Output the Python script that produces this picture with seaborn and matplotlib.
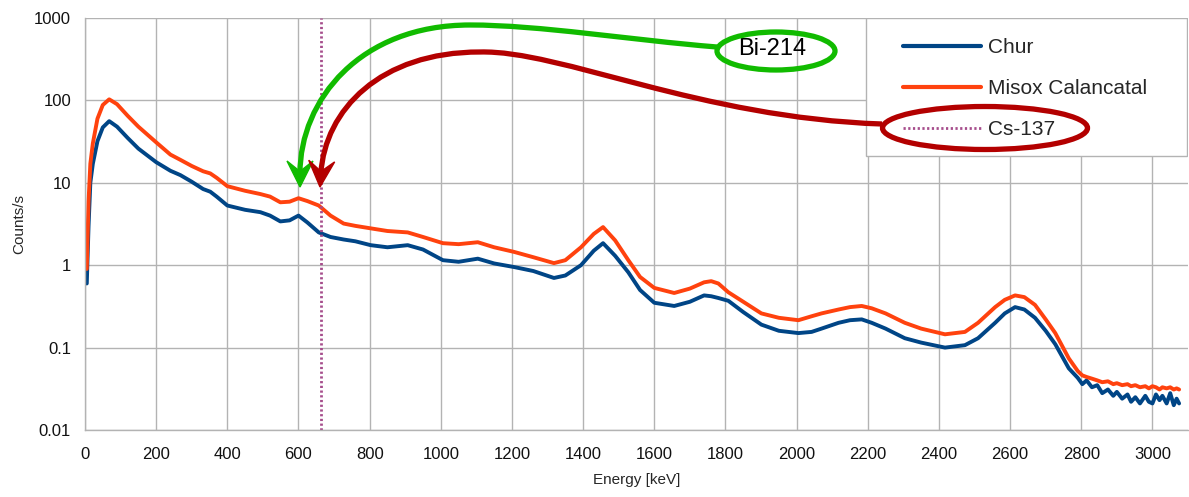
import numpy as np
import pandas as pd
import matplotlib
matplotlib.use('Agg')
import matplotlib.pyplot as plt
import seaborn as sns
from matplotlib.lines import Line2D
from matplotlib.patches import Ellipse, Rectangle, PathPatch, Polygon
from matplotlib.path import Path
from matplotlib.ticker import FixedLocator, FixedFormatter

# spectrum values (keV, counts/s)
energy = [5, 10, 15, 22, 35, 50, 68, 90, 120, 150, 200, 240, 268, 300, 332, 352, 370, 400,
          450, 493, 520, 549, 575, 600, 625, 657, 690, 727, 760, 803, 850, 907, 950, 1006,
          1050, 1104, 1150, 1206, 1260, 1318, 1350, 1394, 1430, 1456, 1490, 1527, 1560, 1600,
          1656, 1700, 1740, 1760, 1780, 1808, 1850, 1901, 1950, 2005, 2042, 2070, 2118, 2150,
          2183, 2211, 2250, 2304, 2350, 2417, 2473, 2510, 2558, 2585, 2614, 2640, 2670, 2700,
          2727, 2765, 2790, 2803, 2815, 2830, 2845, 2859, 2875, 2890, 2900, 2915, 2930, 2940,
          2952, 2965, 2980, 2990, 3000, 3010, 3020, 3028, 3040, 3050, 3060, 3068, 3075]

misox = [0.9, 6, 17, 30, 60, 88, 103, 90, 65, 48, 31, 22, 19, 16, 13.8, 13, 11.5, 9.1,
         8.0, 7.3, 6.8, 5.8, 5.9, 6.5, 6.0, 5.3, 4.0, 3.2, 3.0, 2.8, 2.6, 2.5, 2.2, 1.85,
         1.8, 1.9, 1.65, 1.45, 1.25, 1.06, 1.15, 1.65, 2.4, 2.9, 2.0, 1.15, 0.72, 0.53,
         0.46, 0.52, 0.62, 0.64, 0.6, 0.47, 0.36, 0.26, 0.23, 0.215, 0.24, 0.26, 0.29, 0.31,
         0.32, 0.30, 0.26, 0.20, 0.17, 0.145, 0.155, 0.2, 0.31, 0.38, 0.43, 0.41, 0.33, 0.22,
         0.15, 0.074, 0.052, 0.046, 0.044, 0.042, 0.040, 0.038, 0.039, 0.036, 0.037, 0.035, 0.036, 0.034,
         0.035, 0.033, 0.034, 0.032, 0.034, 0.033, 0.031, 0.033, 0.032, 0.033, 0.031, 0.032, 0.031]

chur = [0.6, 3, 10, 17, 32, 47, 56, 48, 35, 26, 17.8, 14, 12.4, 10.3, 8.4, 7.8, 6.8, 5.3,
        4.7, 4.4, 4.0, 3.4, 3.5, 4.0, 3.3, 2.5, 2.2, 2.05, 1.95, 1.75, 1.65, 1.75, 1.55, 1.15,
        1.1, 1.2, 1.05, 0.95, 0.85, 0.7, 0.75, 1.0, 1.5, 1.85, 1.3, 0.82, 0.5, 0.35,
        0.32, 0.36, 0.43, 0.42, 0.4, 0.37, 0.27, 0.19, 0.16, 0.15, 0.155, 0.17, 0.2, 0.215,
        0.22, 0.2, 0.17, 0.13, 0.115, 0.1, 0.107, 0.13, 0.2, 0.26, 0.31, 0.29, 0.23, 0.16,
        0.11, 0.056, 0.043, 0.036, 0.040, 0.033, 0.035, 0.028, 0.031, 0.026, 0.029, 0.024, 0.027, 0.022,
        0.025, 0.021, 0.026, 0.022, 0.021, 0.027, 0.023, 0.026, 0.021, 0.028, 0.020, 0.024, 0.021]

series_names = ['Chur', 'Misox Calancatal']
series_colors = ['#004586', '#ff420e']
cs137_energy = 662
x_ticks = list(range(0, 3001, 200))
y_ticks = [0.01, 0.1, 1, 10, 100, 1000]
y_tick_labels = ['0.01', '0.1', '1', '10', '100', '1000']

W, H = 1189, 497
GREEN = '#11bb00'
RED = '#b30000'
CS_COLOR = '#a64d8c'

df = pd.DataFrame({
    'energy': energy * 2,
    'counts': chur + misox,
    'sample': [series_names[0]] * len(energy) + [series_names[1]] * len(energy),
})

sns.set_theme(style='whitegrid')
plt.rcParams['font.family'] = ['Liberation Sans', 'DejaVu Sans']

fig = plt.figure(figsize=(W / 100, H / 100), dpi=100)
ax = fig.add_axes([85 / W, 67 / H, 1103 / W, 412 / H])

sns.lineplot(data=df, x='energy', y='counts', hue='sample', hue_order=series_names,
             palette=series_colors, linewidth=2.8, sort=False, legend=False, ax=ax)
ax.axvline(cs137_energy, color=CS_COLOR, linestyle=(0, (0.8, 0.9)), linewidth=2)

ax.set_yscale('log')
ax.set_xlim(0, 3100)
ax.set_ylim(0.01, 1000)
ax.xaxis.set_major_locator(FixedLocator(x_ticks))
ax.yaxis.set_major_locator(FixedLocator(y_ticks))
ax.yaxis.set_major_formatter(FixedFormatter(y_tick_labels))
ax.yaxis.set_minor_locator(FixedLocator([]))
ax.grid(True, color='#b3b3b3', linewidth=1)
for s in ['top', 'right']:
    ax.spines[s].set_visible(False)
for s in ['left', 'bottom']:
    ax.spines[s].set_color('#b3b3b3')
    ax.spines[s].set_linewidth(1)
ax.tick_params(axis='both', length=4, width=1, color='#b3b3b3', labelsize=12, labelcolor='#111111')
ax.tick_params(axis='x', pad=8)
ax.tick_params(axis='y', pad=6)
ax.set_xlabel('Energy [keV]', fontsize=11, labelpad=8)
ax.set_ylabel('Counts/s', fontsize=11, labelpad=6)

# legend box
ax.add_patch(Rectangle((866 / W, 1 - 156 / H), (1187 - 866) / W, (156 - 18) / H,
                       transform=fig.transFigure, facecolor='white', edgecolor='#b3b3b3',
                       linewidth=1, zorder=5))
handles = [Line2D([], [], color=series_colors[0], lw=3),
           Line2D([], [], color=series_colors[1], lw=3),
           Line2D([], [], color=CS_COLOR, lw=2, linestyle=(0, (0.8, 0.9)))]
leg = fig.legend(handles, series_names + ['Cs-137'], loc='upper left',
                 bbox_to_anchor=(893 / W, 1 - 28 / H), frameon=False, fontsize=15,
                 handlelength=3.7, handletextpad=0.35, labelspacing=1.05, borderpad=0)
leg.set_zorder(6)


def fp(x, y):
    return (x / W, 1 - y / H)


# annotation ellipses
fig.patches.append(Ellipse(fp(776, 51), 118 / W, 38 / H, transform=fig.transFigure,
                           fill=False, edgecolor=GREEN, linewidth=3.8, zorder=10))
fig.patches.append(Ellipse(fp(985, 128), 205 / W, 43 / H, transform=fig.transFigure,
                           fill=False, edgecolor=RED, linewidth=3.8, zorder=10))
fig.text(772 / W, 1 - 49 / H, 'Bi-214', fontsize=17, ha='center', va='center', color='black')


def curved_arrow(pts, col, head_len=26, half_w=13, notch=0.6):
    # pts: start, ctrl, ctrl, mid, ctrl, ctrl, tip (image pixel coords)
    pts = np.array(pts, dtype=float)
    tip = pts[-1]
    d = tip - pts[-2]
    d = d / np.hypot(*d)
    n = np.array([-d[1], d[0]])
    base = tip - notch * head_len * d
    line_pts = pts.copy()
    line_pts[-1] = base + 2 * d
    C = Path.CURVE4
    path = Path([fp(*p) for p in line_pts], [Path.MOVETO, C, C, C, C, C, C])
    fig.patches.append(PathPatch(path, fill=False, edgecolor=col, linewidth=3.8,
                                 capstyle='butt', transform=fig.transFigure, zorder=10))
    head = [tip, tip - head_len * d + half_w * n, base, tip - head_len * d - half_w * n]
    fig.patches.append(Polygon([fp(*p) for p in head], closed=True, facecolor=col,
                               edgecolor=col, linewidth=1, transform=fig.transFigure, zorder=11))


curved_arrow([(717, 47), (630, 40), (540, 25), (470, 25), (360, 25), (300, 100), (300, 187)], GREEN)
curved_arrow([(882, 124), (700, 118), (560, 50), (480, 52), (380, 52), (325, 110), (320, 187)], RED)

fig.savefig('out.png', dpi=100)
